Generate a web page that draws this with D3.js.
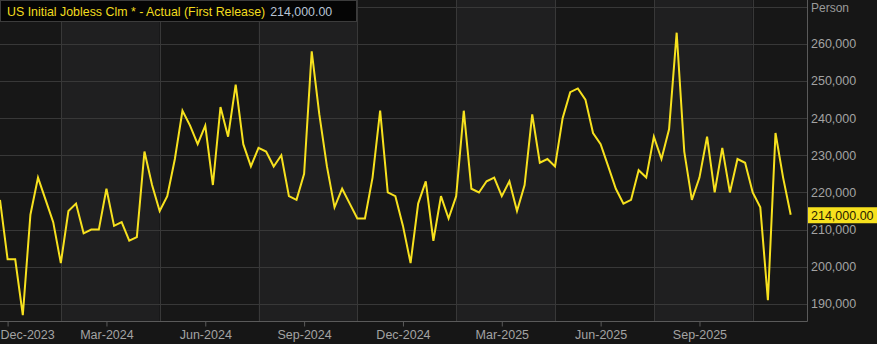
<!DOCTYPE html>
<meta charset="utf-8">
<script src="https://d3js.org/d3.v7.min.js"></script>
<style>
  body { margin: 0; background: #161616; }
  svg { display: block; font-family: "Liberation Sans", Arial, sans-serif; }
</style>
<div id="my_dataviz"></div>
<script>

// weekly data, week ending dates (first release values)
var startWeek = "2023-12-23";
var claims = [218000, 202000, 202000, 187000, 214000, 224000, 218000, 212000, 201000, 215000,
  217000, 209000, 210000, 210000, 221000, 211000, 212000, 207000, 208000, 231000,
  222000, 215000, 219000, 229000, 242000, 238000, 233000, 238000, 222000, 243000,
  235000, 249000, 233000, 227000, 232000, 231000, 227000, 230000, 219000, 218000,
  225000, 258000, 241000, 227000, 216000, 221000, 217000, 213000, 213000, 224000,
  242000, 220000, 219000, 211000, 201000, 217000, 223000, 207000, 219000, 213000,
  219000, 242000, 221000, 220000, 223000, 224000, 219000, 223000, 215000, 222000,
  241000, 228000, 229000, 227000, 240000, 247000, 248000, 245000, 236000, 233000,
  227000, 221000, 217000, 218000, 226000, 224000, 235000, 229000, 237000, 263000,
  231000, 218000, 224000, 235000, 220000, 232000, 220000, 229000, 228000, 220000,
  216000, 191000, 236000, 224000, 214000];

// x axis labels sit on the last week of each quarter-end month
var tickDates = ["2023-12-30", "2024-03-30", "2024-06-29", "2024-09-28",
  "2024-12-28", "2025-03-29", "2025-06-28", "2025-09-27"];
// band / vertical grid boundaries
var bandDates = ["2024-02-17", "2024-05-18", "2024-08-17", "2024-11-16",
  "2025-02-15", "2025-05-17", "2025-08-16", "2025-11-15"];
var yTicks = [190000, 200000, 210000, 220000, 230000, 240000, 250000, 260000];
var yGrid = [190000, 200000, 210000, 220000, 230000, 240000, 250000, 260000, 270000];
var xDomain = ["2023-12-23", "2026-01-04"];

var titleText = "US Initial Jobless Clm * - Actual (First Release)";
var unitText = "Person";

var parse = d3.timeParse("%Y-%m-%d");
var fmtVal = d3.format(",.2f");
var start = parse(startWeek);
var data = claims.map(function(v, i) {
  return { date: d3.timeDay.offset(start, i * 7), value: v };
});
var last = data[data.length - 1];

var W = 877, H = 344;
var plotW = 807, plotH = 321;

var svg = d3.select("#my_dataviz")
  .append("svg")
    .attr("width", W)
    .attr("height", H);

svg.append("rect")
  .attr("width", W).attr("height", H)
  .attr("fill", "#161616");

var x = d3.scaleTime()
  .domain(xDomain.map(parse))
  .range([0, plotW]);

var y = d3.scaleLinear()
  .domain([185400, 271800])
  .range([plotH, 0]);

// alternating bands
var edges = [x.domain()[0]].concat(bandDates.map(parse), [x.domain()[1]]);
var bands = d3.pairs(edges);
svg.append("g").selectAll("rect")
  .data(bands)
  .enter().append("rect")
    .attr("x", function(d) { return x(d[0]); })
    .attr("y", 0)
    .attr("width", function(d) { return x(d[1]) - x(d[0]); })
    .attr("height", plotH)
    .attr("fill", function(d, i) { return i % 2 ? "#1f1f20" : "#171717"; });

// grid
var grid = svg.append("g").attr("stroke", "#383838").attr("stroke-width", 1);
grid.selectAll(".hg")
  .data(yGrid)
  .enter().append("line")
    .attr("x1", 0).attr("x2", plotW)
    .attr("y1", function(d) { return Math.round(y(d)) + 0.5; })
    .attr("y2", function(d) { return Math.round(y(d)) + 0.5; });
grid.selectAll(".vg")
  .data(bandDates.map(parse))
  .enter().append("line")
    .attr("y1", 0).attr("y2", plotH)
    .attr("x1", function(d) { return Math.round(x(d)) + 0.5; })
    .attr("x2", function(d) { return Math.round(x(d)) + 0.5; });

// the series
var line = d3.line()
  .x(function(d) { return x(d.date); })
  .y(function(d) { return y(d.value); });

svg.append("path")
  .datum(data)
  .attr("fill", "none")
  .attr("stroke", "#f7e11e")
  .attr("stroke-width", 2)
  .attr("stroke-linejoin", "miter")
  .attr("d", line);

// plot border (right + bottom)
svg.append("path")
  .attr("d", "M" + (plotW + 0.5) + ",0V" + (plotH + 0.5) + "H0")
  .attr("fill", "none")
  .attr("stroke", "#5a5a5a");

// x axis
var xAxis = svg.append("g")
  .attr("transform", "translate(0," + (plotH + 0.5) + ")")
  .call(d3.axisBottom(x)
    .tickValues(tickDates.map(parse))
    .tickFormat(d3.timeFormat("%b-%Y"))
    .tickSize(5)
    .tickPadding(4));
xAxis.select(".domain").remove();
xAxis.selectAll("line").attr("stroke", "#5a5a5a");
xAxis.selectAll("text")
  .attr("fill", "#a3a3a3")
  .style("font-size", "12.5px")
  .style("font-family", "'Liberation Sans', Arial, sans-serif");

// keep the first label inside the left edge
xAxis.selectAll(".tick").filter(function(d, i) { return i === 0; })
  .select("text")
    .attr("text-anchor", "start")
    .attr("x", function(d) { return -x(d); });

// y axis on the right
var yAxis = svg.append("g")
  .attr("transform", "translate(" + (plotW + 1) + ",0)")
  .call(d3.axisRight(y)
    .tickValues(yTicks)
    .tickFormat(d3.format(","))
    .tickSize(0)
    .tickPadding(3));
yAxis.select(".domain").remove();
yAxis.selectAll("text")
  .attr("fill", "#a3a3a3")
  .style("font-size", "12.5px")
  .style("font-family", "'Liberation Sans', Arial, sans-serif");

svg.append("text")
  .attr("x", plotW + 4)
  .attr("y", 12)
  .attr("fill", "#9a9a9a")
  .style("font-size", "12px")
  .text(unitText);

// last value tag
var tag = svg.append("g")
  .attr("transform", "translate(" + (plotW + 1) + "," + y(last.value) + ")");
tag.append("rect")
  .attr("x", 0).attr("y", -7.5)
  .attr("width", W - plotW).attr("height", 16)
  .attr("fill", "#f7e11e");
tag.append("text")
  .attr("x", 3).attr("y", 5)
  .attr("fill", "#2a2200")
  .style("font-size", "12.5px")
  .text(fmtVal(last.value));

// title box
var title = svg.append("g");
title.append("rect")
  .attr("x", 0.5).attr("y", 0.5)
  .attr("width", 356).attr("height", 21)
  .attr("fill", "#050505")
  .attr("stroke", "#3c3c3c");
var tt = title.append("text")
  .attr("x", 7).attr("y", 15.5)
  .style("font-size", "12.4px");
tt.append("tspan")
  .attr("fill", "#f2dc1e")
  .text(titleText);
tt.append("tspan")
  .attr("fill", "#b8c4d6")
  .attr("dx", 5)
  .text(fmtVal(last.value));

</script>
